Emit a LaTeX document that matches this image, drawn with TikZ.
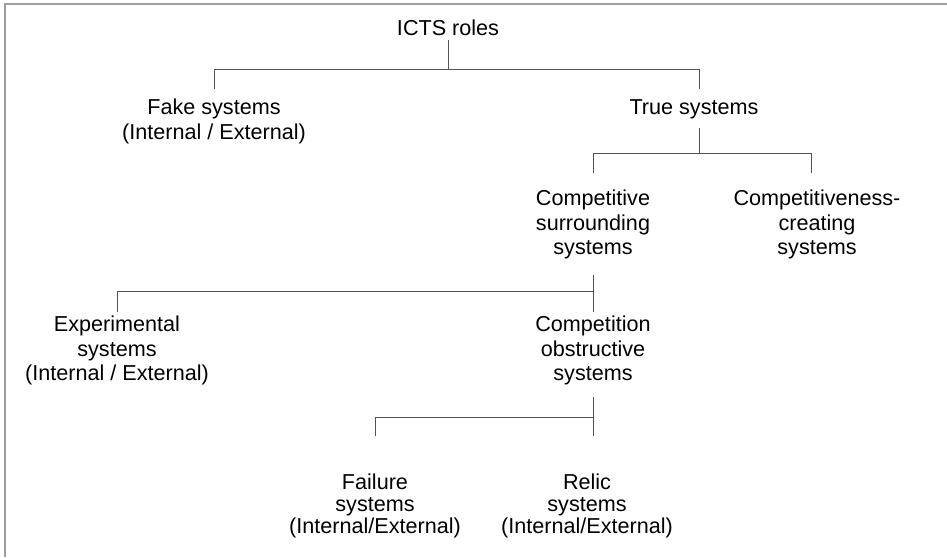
\documentclass[tikz,border=0pt]{standalone}
\usepackage{fontspec}
\setmainfont{Liberation Sans}
\begin{document}
\begin{tikzpicture}[x=1pt,y=-1pt,
  lbl/.style={align=center,inner sep=0pt,anchor=north,font=\fontsize{21.6}{24.5}\selectfont},
  lbltight/.style={lbl,font=\fontsize{21.6}{21.7}\selectfont},
  conn/.style={draw=black!68,line width=1pt},
  frame/.style={draw=black!38,line width=1.6pt}]
\useasboundingbox (0,0) rectangle (947,557);
\draw[frame] (5,557) -- (5,4) -- (947,4);
% nodes
\node[lbl] (root) at (448,20) {ICTS roles};
\node[lbl] (fake) at (214,99) {Fake systems\\(Internal / External)};
\node[lbl] (true) at (694,99) {True systems};
\node[lbl] (cs) at (593,190) {Competitive\\surrounding\\systems};
\node[lbl] (cc) at (817,190) {Competitiveness-\\creating\\systems};
\node[lbl] (exp) at (117,316) {Experimental\\systems\\(Internal / External)};
\node[lbl] (co) at (593,316) {Competition\\obstructive\\systems};
\node[lbltight] (fail) at (375,474) {Failure\\systems\\(Internal/External)};
\node[lbltight] (relic) at (587,474) {Relic\\systems\\(Internal/External)};
% level coordinates
\coordinate (L40) at (0,40);
\coordinate (L69) at (0,69);
\coordinate (L89) at (0,89);
\coordinate (L128) at (0,128);
\coordinate (L153) at (0,153);
\coordinate (L173) at (0,173);
\coordinate (L275) at (0,275);
\coordinate (L291) at (0,291);
\coordinate (L312) at (0,312);
\coordinate (L397) at (0,397);
\coordinate (L417) at (0,417);
\coordinate (L436) at (0,436);
% connectors
\draw[conn] (root.north |- L40) -- (root.north |- L69) -| (fake.north |- L89);
\draw[conn] (root.north |- L69) -| ([xshift=5pt]true.north |- L89);
\draw[conn] ([xshift=5pt]true.north |- L128) -- ([xshift=5pt]true.north |- L153);
\draw[conn] (cs.north |- L173) |- ([xshift=-6pt]cc.north |- L153) -- ([xshift=-6pt]cc.north |- L173);
\draw[conn] (cs.north |- L275) -- (co.north |- L312);
\draw[conn] (cs.north |- L291) -| (exp.north |- L312);
\draw[conn] (co.north |- L397) -- ([xshift=6pt]relic.north |- L436);
\draw[conn] (co.north |- L417) -| (fail.north |- L436);
\end{tikzpicture}
\end{document}
